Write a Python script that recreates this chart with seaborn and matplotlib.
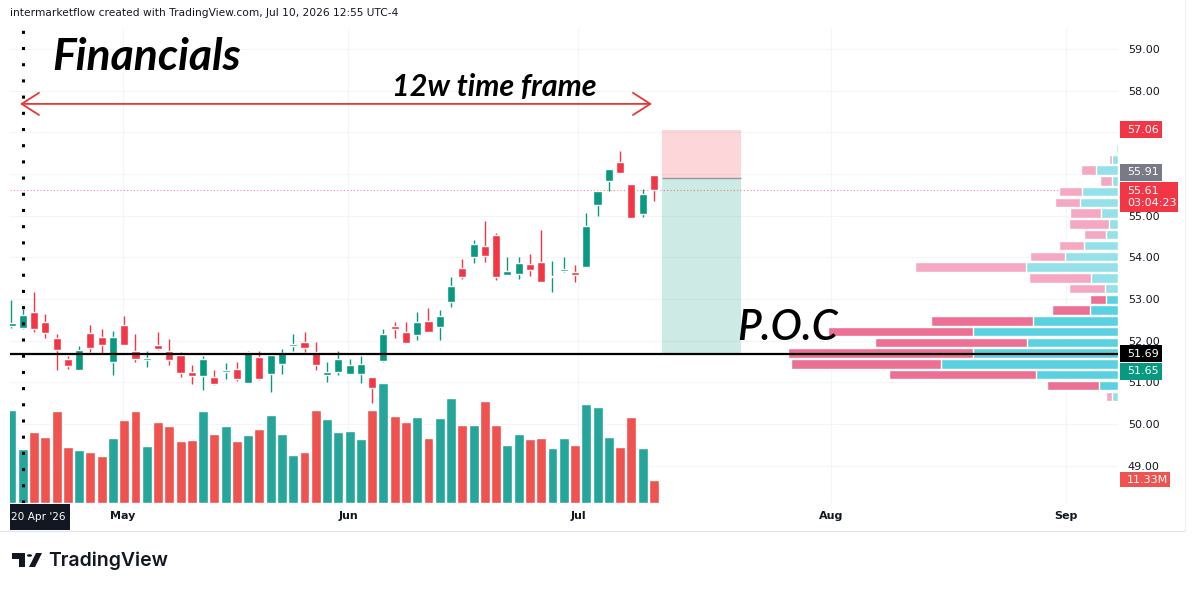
import matplotlib
matplotlib.use("Agg")
import matplotlib.pyplot as plt
from matplotlib.patches import Rectangle, Polygon, Circle
from matplotlib.lines import Line2D
import numpy as np
import pandas as pd
import seaborn as sns


# daily candles, 17 Apr -> 10 Jul 2026
opens = [52.36, 52.31, 52.70, 52.46, 52.06, 51.57, 51.29, 52.18, 52.10, 51.50,
         52.38, 51.76, 51.54, 51.90, 51.76, 51.66, 51.24, 51.16, 51.12, 51.25,
         51.32, 50.98, 51.61, 51.21, 51.44, 51.88, 51.98, 51.73, 51.18, 51.26,
         51.21, 51.21, 51.12, 51.52, 52.36, 52.22, 52.14, 52.48, 52.33, 52.92,
         53.74, 54.00, 54.28, 54.54, 53.58, 53.60, 53.84, 53.88, 53.53, 53.68,
         53.64, 53.78, 55.26, 55.82, 56.28, 55.76, 55.04, 55.98]
highs = [52.98, 52.77, 53.17, 52.64, 52.16, 51.64, 51.88, 52.38, 52.28, 52.24,
         52.60, 52.17, 51.76, 52.22, 52.05, 51.74, 51.42, 51.64, 51.30, 51.46,
         51.48, 51.76, 51.76, 51.65, 51.81, 52.16, 52.21, 51.98, 51.48, 51.76,
         51.57, 51.64, 51.12, 52.28, 52.46, 52.46, 52.69, 52.78, 52.74, 53.54,
         53.96, 54.42, 54.88, 54.58, 54.00, 54.00, 54.08, 54.66, 53.92, 54.00,
         53.82, 55.06, 55.60, 56.11, 56.56, 55.76, 55.64, 55.98]
lows = [52.31, 52.29, 52.20, 52.06, 51.29, 51.33, 51.29, 51.74, 51.69, 51.18,
        51.90, 51.48, 51.37, 51.78, 51.42, 51.14, 50.96, 50.81, 50.94, 51.09,
        51.04, 50.98, 51.06, 50.78, 51.20, 51.76, 51.73, 51.30, 51.02, 51.17,
        51.21, 50.98, 50.50, 51.48, 52.06, 51.94, 52.02, 52.21, 52.02, 52.81,
        53.48, 53.86, 53.90, 53.46, 53.58, 53.48, 53.56, 53.42, 53.18, 53.66,
        53.40, 53.78, 54.99, 55.58, 56.02, 54.94, 54.96, 55.36]
closes = [52.43, 52.62, 52.28, 52.18, 51.78, 51.40, 51.78, 51.82, 51.90, 52.10,
          51.90, 51.56, 51.58, 51.81, 51.53, 51.22, 51.16, 51.56, 50.97, 51.29,
          51.08, 51.74, 51.08, 51.65, 51.70, 51.92, 51.82, 51.42, 51.26, 51.57,
          51.42, 51.44, 50.86, 52.17, 52.28, 51.94, 52.44, 52.21, 52.60, 53.32,
          53.54, 54.32, 54.04, 53.54, 53.68, 53.86, 53.70, 53.42, 53.56, 53.70,
          53.58, 54.76, 55.60, 56.11, 56.02, 54.94, 55.52, 55.61]
# volume, millions
volumes = [45.4, 26.4, 34.5, 32.1, 44.7, 27.2, 25.9, 24.8, 22.7, 31.6,
           40.2, 44.7, 27.7, 39.4, 37.4, 30.0, 30.8, 44.6, 33.7, 37.4,
           30.0, 33.2, 36.1, 42.6, 33.7, 23.5, 24.8, 45.4, 41.0, 34.5,
           34.8, 31.3, 45.1, 58.2, 42.3, 39.4, 41.9, 31.6, 41.5, 51.2,
           37.8, 37.8, 49.6, 38.1, 28.3, 33.5, 31.1, 31.7, 26.9, 31.7,
           28.0, 48.1, 46.5, 32.2, 27.2, 41.9, 26.6, 11.33]

# visible range volume profile, bottom row first
vp_bottom = 50.54
vp_step = 0.2583
vp_up = [6.0, 18.7, 81.7, 176.7, 145.3, 91.0, 145.3, 85.0, 28.3, 12.0,
         13.3, 27.0, 92.0, 52.7, 33.7, 12.0, 8.7, 17.0, 37.7, 35.7,
         6.0, 21.7, 6.0, 1.7]
vp_down = [5.7, 52.3, 147.7, 150.3, 184.7, 152.3, 144.7, 102.0, 37.7, 15.7,
           35.3, 61.7, 110.7, 35.0, 25.0, 21.7, 40.7, 30.7, 25.0, 23.3,
           12.3, 15.0, 3.3, 0.0]
va_rows = range(1, 10)

month_ticks = [9.9, 29.9, 50.3, 72.7, 93.6]
month_labels = ["May", "Jun", "Jul", "Aug", "Sep"]
price_ticks = list(range(49, 60))
hidden_ticks = [56, 57]  # sit under the position labels

poc = 51.69
last_price = 55.61
entry, stop, target = 55.91, 57.06, 51.65
pos_start, pos_end = 57.7, 64.7

UP = "#089981"
DOWN = "#f23645"
VOL_UP = "#26a69a"
VOL_DOWN = "#ef5350"
INK = "#131722"

W, H = 1194, 591


def fx(px):
    return px / W


def fy(py):
    return 1 - py / H


sns.set_theme(style="white")
plt.rcParams["font.family"] = ["DejaVu Sans"]

fig = plt.figure(figsize=(W / 100, H / 100), dpi=100)
fig.patch.set_facecolor("white")
ax = fig.add_axes([fx(10), fy(503), fx(1118) - fx(10), fy(28) - fy(503)])
axv = ax.twinx()
axp = ax.twiny()
ax.set_zorder(1)
axv.set_zorder(2)
axp.set_zorder(3)

# candles
idx = np.arange(len(opens))
o, h, l, c = (np.array(a) for a in (opens, highs, lows, closes))
rising = c >= o
col = np.where(rising, UP, DOWN)
ax.vlines(idx, l, h, colors=col, lw=1.0, zorder=3)
ax.bar(idx, np.maximum(np.abs(c - o), 0.03), bottom=np.minimum(o, c),
       width=0.72, color=col, zorder=4)

# volume
vol_df = pd.DataFrame({"bar": idx, "vol": volumes,
                       "dir": np.where(rising, "up", "down")})
sns.barplot(data=vol_df, x="bar", y="vol", hue="dir",
            palette={"up": VOL_UP, "down": VOL_DOWN}, native_scale=True,
            width=0.88, dodge=False, errorbar=None, saturation=1,
            legend=False, ax=axv)

# volume profile
centers = vp_bottom + (np.arange(len(vp_up)) + 0.5) * vp_step
prof = pd.DataFrame({"price": centers, "up": vp_up,
                     "total": np.array(vp_up) + np.array(vp_down),
                     "zone": ["va" if k in va_rows else "out"
                              for k in range(len(vp_up))]})
sns.barplot(data=prof, x="total", y="price", hue="zone", orient="y",
            palette={"va": "#ec6f94", "out": "#f5a8c1"}, native_scale=True,
            width=0.88, dodge=False, errorbar=None, saturation=1,
            legend=False, ax=axp)
sns.barplot(data=prof, x="up", y="price", hue="zone", orient="y",
            palette={"va": "#5ad1e1", "out": "#95e1ea"}, native_scale=True,
            width=0.88, dodge=False, errorbar=None, saturation=1,
            legend=False, ax=axp)

# short position tool
ax.add_patch(Rectangle((pos_start, entry), pos_end - pos_start, stop - entry,
                       fc=DOWN, alpha=0.2, ec="none", zorder=2))
ax.add_patch(Rectangle((pos_start, target), pos_end - pos_start, entry - target,
                       fc=UP, alpha=0.2, ec="none", zorder=2))
ax.hlines(entry, pos_start, pos_end, color="#9598a1", lw=1, zorder=2)

ax.axhline(last_price, color=DOWN, lw=0.8, ls=(0, (1, 2)), alpha=0.6, zorder=2)
axp.axhline(poc, color="black", lw=1.6, zorder=6)
axv.axvline(1, color="black", lw=2.2, ls=(0, (1, 4.3)), zorder=6)

ax.annotate("", xy=(56.83, 57.68), xytext=(0.75, 57.68),
            arrowprops=dict(arrowstyle="<->,head_length=0.5,head_width=0.32",
                            color="#e53935", lw=1.3, mutation_scale=25,
                            shrinkA=0, shrinkB=0))

# limits and axes
ax.set_xlim(-0.133, 98.18)
ax.set_ylim(48.11, 59.50)
axv.set_ylim(0, 230.9)
axp.set_xlim(1108, 0)

ax.yaxis.tick_right()
ax.set_yticks(price_ticks, ["" if v in hidden_ticks else f"{v:.2f}"
                            for v in price_ticks])
ax.set_xticks(month_ticks, month_labels)
ax.tick_params(axis="y", length=0, pad=7, labelsize=8, labelcolor=INK)
ax.tick_params(axis="x", length=0, pad=6, labelsize=8, labelcolor=INK)
for t in ax.get_xticklabels():
    t.set_fontweight("bold")
ax.grid(True, color="#f4f5f7", lw=0.8)
ax.set_axisbelow(True)
axv.yaxis.set_visible(False)
axp.xaxis.set_visible(False)
for a in (ax, axv, axp):
    a.set_xlabel("")
    a.set_ylabel("")
    for s in a.spines.values():
        s.set_visible(False)


def tag(axes, yval, text, fc, w, h=17, dy=0):
    ypix = axes.transData.transform((0, yval))[1] - dy
    fig.patches.append(Rectangle((fx(1120), (ypix - h / 2) / H), w / W, h / H,
                                 transform=fig.transFigure, fc=fc, ec="none",
                                 zorder=20))
    fig.text(fx(1127), ypix / H, text, color="white", fontsize=8,
             va="center", ha="left", linespacing=1.25, zorder=21)


tag(ax, stop, f"{stop:.2f}", DOWN, 42)
tag(ax, entry, f"{entry:.2f}", "#787b86", 42, dy=-5.5)
tag(ax, last_price, f"{last_price:.2f}\n03:04:23", DOWN, 58, h=30, dy=6.8)
tag(ax, poc, f"{poc:.2f}", "black", 42)
tag(ax, target, f"{target:.2f}", UP, 42, dy=16)
tag(axv, volumes[-1], f"{volumes[-1]:.2f}M", VOL_DOWN, 50, h=15)

# crosshair date
fig.patches.append(Rectangle((fx(10), fy(530)), 60 / W, 26 / H,
                             transform=fig.transFigure, fc=INK, ec="none",
                             zorder=20))
fig.text(fx(11), fy(517), "20 Apr '26", color="white", fontsize=7.6,
         va="center", ha="left", zorder=21)

# frame lines
fig.add_artist(Line2D([0, fx(1185)], [fy(531), fy(531)], color="#e0e3eb",
                      lw=0.8, transform=fig.transFigure))
fig.add_artist(Line2D([fx(1185), fx(1185)], [fy(531), 1], color="#eef0f3",
                      lw=0.8, transform=fig.transFigure))

# texts
fig.text(fx(10), fy(13), "intermarketflow created with TradingView.com, "
         "Jul 10, 2026 12:55 UTC-4", fontsize=7.7, color=INK, va="center")
fig.text(fx(52), fy(57), "Financials", fontsize=32, fontweight="bold",
         style="italic", family="Lato", color="black", va="center", zorder=10)
fig.text(fx(494), fy(87), "12w time frame", fontsize=22, fontweight="bold",
         style="italic", family="Lato", color="black", va="center",
         ha="center", zorder=10)
fig.text(fx(737), fy(328), "P.O.C", fontsize=30, fontweight="semibold",
         style="italic", family="Lato", color="black", va="center", zorder=10)

# TradingView logo
logo = [Polygon([(fx(12), fy(553)), (fx(25), fy(553)), (fx(25), fy(567)),
                 (fx(19), fy(567)), (fx(19), fy(559)), (fx(12), fy(559))],
                closed=True),
        Polygon([(fx(29), fy(567)), (fx(35), fy(567)), (fx(42), fy(553)),
                 (fx(36), fy(553))], closed=True)]
for p in logo:
    p.set(transform=fig.transFigure, fc=INK, ec="none")
    fig.patches.append(p)
fig.patches.append(Circle((fx(29.5), fy(555.5)), 2.6 / W,
                          transform=fig.transFigure, fc=INK, ec="none"))
fig.text(fx(48), fy(561), "TradingView", fontsize=14, fontweight="semibold",
         family="Inter", color=INK, va="center")

fig.savefig("out.png", dpi=100)
